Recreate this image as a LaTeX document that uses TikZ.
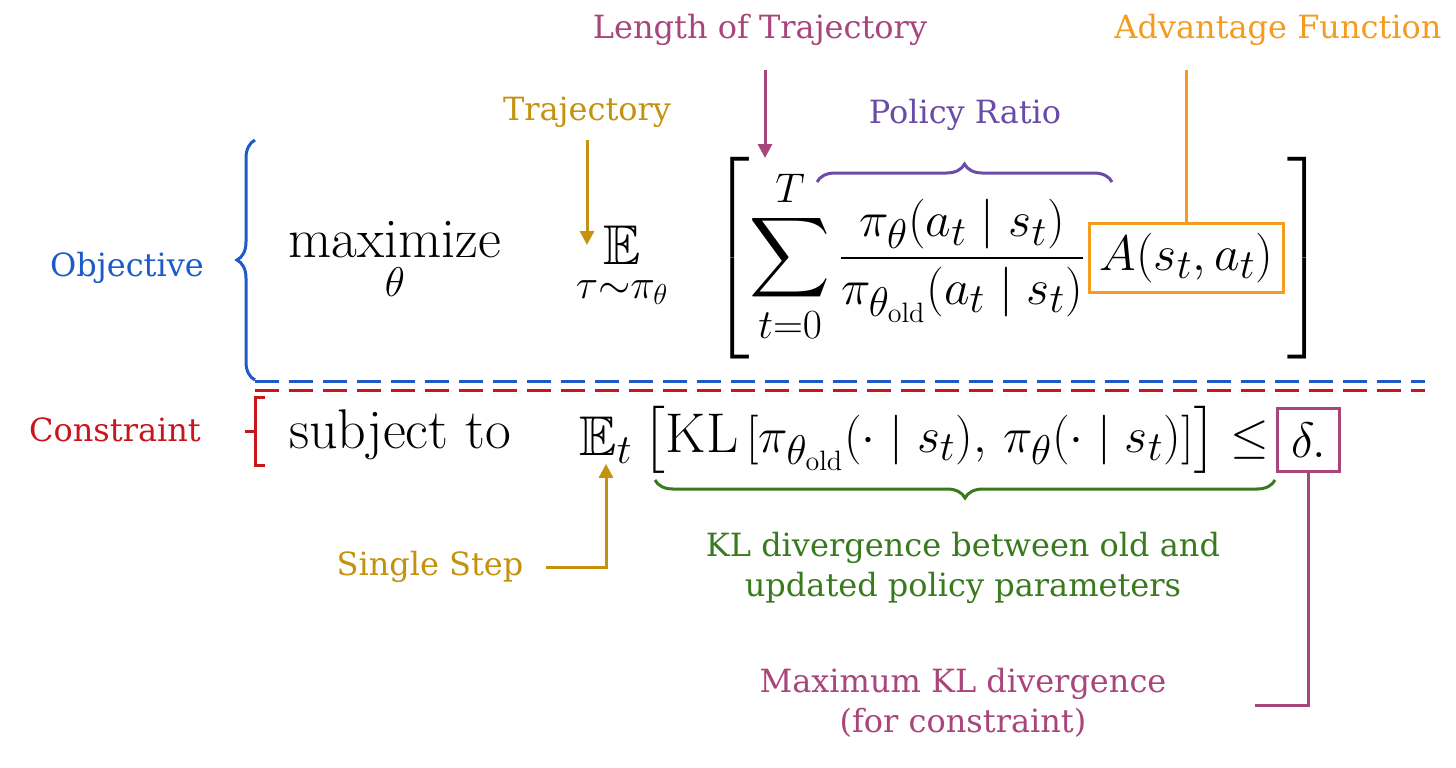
\documentclass[tikz,border=0pt]{standalone}
\usepackage{amsmath}
\usepackage{amssymb}
\usepackage{fontspec}
\newfontfamily\labelfont{DejaVu Serif}
\usetikzlibrary{arrows.meta,calc,positioning,decorations.pathreplacing}
\definecolor{cLen}{HTML}{A8457A}
\definecolor{cAdv}{HTML}{F39C1F}
\definecolor{cTraj}{HTML}{C4920F}
\definecolor{cPol}{HTML}{6A4BA8}
\definecolor{cObj}{HTML}{1F5BC8}
\definecolor{cCon}{HTML}{C8161D}
\definecolor{cKL}{HTML}{3A7A1E}
\tikzset{
	lbl/.style={font=\labelfont\fontsize{16}{20}\selectfont,align=center,inner sep=1pt},
	eq/.style={font=\fontsize{28}{33}\selectfont,inner sep=0pt},
	ar/.style={line width=1.5pt,-{Triangle[length=7pt,width=7pt]}},
	ln/.style={line width=1.5pt},
	br/.style={line width=1.5pt,decorate,decoration={brace,amplitude=9pt}}
}
\begin{document}
\begin{tikzpicture}[x=0.5pt,y=-0.5pt]
  \useasboundingbox (0,0) rectangle (1456,767);
  % first line
  \node [eq] (max) at (395,262) {$\displaystyle\operatorname*{maximize}_{\theta}$};
  \node [eq] (exp) at (622,268) {$\displaystyle\mathop{\mathbb{E}}_{\tau\sim\pi_\theta}$};
  \node [eq,anchor=west] (ratio) at (712,258) {$\displaystyle\left[\sum_{t=0}^{T}\frac{\pi_\theta(a_t\mid s_t)}{\pi_{\theta_{\mathrm{old}}}(a_t\mid s_t)}\right.$};
  \node [eq,draw=cAdv,line width=1.5pt,inner sep=5pt,right=0 of ratio] (adv) {$A(s_t,a_t)$};
  \node [eq,anchor=west] (rbr) at (adv.east |- ratio.west) {$\displaystyle\left.\vphantom{\sum_{t=0}^{T}\frac{\pi_\theta(a_t\mid s_t)}{\pi_{\theta_{\mathrm{old}}}(a_t\mid s_t)}}\right]$};
  % second line
  \node [eq] (subj) at (400,435) {subject to};
  \node [eq] (expt) at (606,440) {$\mathbb{E}_t$};
  \node [eq,anchor=west] (kl) at (642,440) {$\bigl[\mathrm{KL}\,[\pi_{\theta_{\mathrm{old}}}(\cdot\mid s_t),\,\pi_\theta(\cdot\mid s_t)]\bigr]\le$};
  \node [eq,draw=cLen,line width=1.5pt,inner sep=7pt,right=6 of kl] (delta) {$\delta.$};
  % labels
  \node [lbl,text=cLen] (len) at (760,30) {Length of Trajectory};
  \node [lbl,text=cAdv,anchor=east] (advl) at (1444,30) {Advantage Function};
  \node [lbl,text=cTraj] (traj) at (587,112) {Trajectory};
  \node [lbl,text=cPol] (pol) at (965,115) {Policy Ratio};
  \node [lbl,text=cObj] (obj) at (127,268) {Objective};
  \node [lbl,text=cCon] (con) at (115,430) {Constraint};
  \node [lbl,text=cTraj] (step) at (430,567) {Single Step};
  \node [lbl,text=cKL] (kld) at (963,568) {KL divergence between old and\\updated policy parameters};
  \node [lbl,text=cLen] (maxkl) at (963,703) {Maximum KL divergence\\(for constraint)};
  % connectors
  \draw [ar,cLen] (765,70) -- (765,158);
  \draw [ln,cAdv] (adv.north) -- (adv.north |- 0,70);
  \draw [ar,cTraj] (587,140) -- (587,245);
  \draw [br,cPol] (817,182) -- (1112,182);
  \draw [br,cObj] (255,380) -- (255,140);
  \draw [br,cKL] (1275,480) -- (655,480);
  \draw [ln,cCon] (265,397) -- (255,397) -- (255,465) -- (265,465) (255,431) -- (245,431);
  \draw [ln,cObj,dash pattern=on 12pt off 5pt] (255,381) -- (1425,381);
  \draw [ln,cCon,dash pattern=on 12pt off 5pt] (255,390) -- (1425,390);
  \draw [ar,cTraj] (step.east) ++(20,0) -| (expt.south);
  \draw [ln,cLen] (1255,705) -| (delta.south);
\end{tikzpicture}
\end{document}
